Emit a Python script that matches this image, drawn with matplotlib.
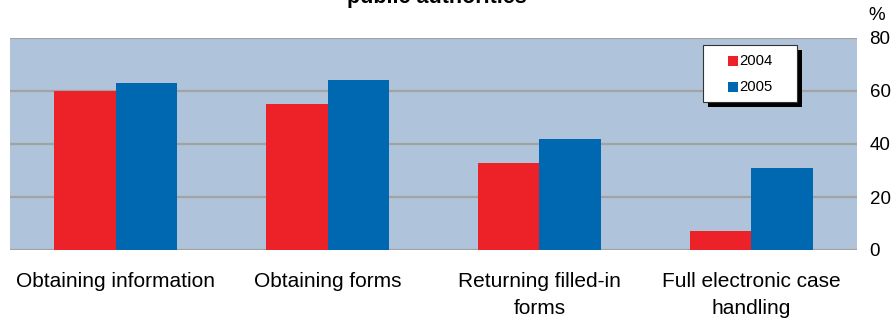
import matplotlib.pyplot as plt
from matplotlib.patches import Rectangle

plt.rcParams['font.family'] = ['Liberation Sans', 'DejaVu Sans']

categories = ['Obtaining information', 'Obtaining forms',
              'Returning filled-in\nforms', 'Full electronic case\nhandling']
years = ['2004', '2005']
values_2004 = [60, 55, 33, 7]
values_2005 = [63, 64, 42, 31]
yticks = [0, 20, 40, 60, 80]

colors = ['#ED2128', '#0067B1']
bg = '#AFC4DA'
grid = '#A3A3A3'

fig = plt.figure(figsize=(8.96, 3.25), dpi=100)
ax = fig.add_axes([10 / 896, 75 / 325, 847 / 896, 212 / 325])
ax.set_facecolor(bg)

x = list(range(len(categories)))
w = 0.29
ax.bar([i - w / 2 for i in x], values_2004, width=w, color=colors[0], zorder=3)
ax.bar([i + w / 2 for i in x], values_2005, width=w, color=colors[1], zorder=3)

ax.set_xlim(-0.5, len(categories) - 0.5)
ax.set_ylim(0, 80)
ax.set_yticks(yticks)
ax.yaxis.tick_right()
ax.tick_params(axis='y', length=0, pad=9, labelsize=13.5)
ax.set_xticks(x)
ax.set_xticklabels(categories, linespacing=1.5)
ax.tick_params(axis='x', length=0, pad=16, labelsize=15)
for s in ax.spines.values():
    s.set_visible(False)
for t in yticks:
    ax.axhline(t, color=grid, lw=1.6, zorder=2)

# legend box with solid drop shadow
lx0, ly0, lw, lh = 693 / 847, 148 / 212, 94 / 847, 57 / 212
dx, dy = 5 / 847, -5 / 212
ax.add_patch(Rectangle((lx0 + dx, ly0 + dy), lw, lh, transform=ax.transAxes,
                       facecolor='black', edgecolor='none', zorder=5))
ax.add_patch(Rectangle((lx0, ly0), lw, lh, transform=ax.transAxes,
                       facecolor='white', edgecolor='#333333', lw=0.8, zorder=6))
for k, (yr, c) in enumerate(zip(years, colors)):
    yc = (250 - 61 - 26 * k) / 212
    ax.add_patch(Rectangle((lx0 + 25 / 847, yc - 5 / 212), 10 / 847, 10 / 212,
                           transform=ax.transAxes, facecolor=c, edgecolor='none', zorder=7))
    ax.text(lx0 + 36 / 847, yc, yr, transform=ax.transAxes, fontsize=10.7,
            va='center', ha='left', zorder=7)

fig.text(437 / 896, 1 - 2.5 / 325, 'Use of e-government services provided by\npublic authorities',
         ha='center', va='baseline', fontsize=15.5, fontweight='bold')
fig.text(868 / 896, 1 - 15 / 325, '%', ha='left', va='center', fontsize=13.5)

fig.savefig('out.png', dpi=100)
